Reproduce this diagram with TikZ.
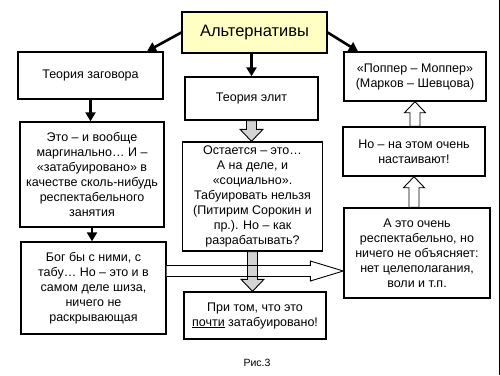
\documentclass[tikz,border=0pt]{standalone}
\usepackage{fontspec}
\setmainfont{Liberation Sans}
\usetikzlibrary{arrows.meta,calc}
\definecolor{titlefill}{RGB}{255,255,196}
\definecolor{blockgrey}{RGB}{212,212,212}
\newcommand\blockdown[3]{\filldraw[fill=#1,line width=0.9pt,line join=miter] let \p1=(#2), \p2=(#3) in (\x1-5pt,\y1) -- (\x1-5pt,\y2+12pt) -- (\x1-11.5pt,\y2+12pt) -- (\x1,\y2) -- (\x1+11.5pt,\y2+12pt) -- (\x1+5pt,\y2+12pt) -- (\x1+5pt,\y1) -- cycle;}
\newcommand\blockup[3]{\filldraw[fill=#1,line width=0.9pt,line join=miter] let \p1=(#2), \p2=(#3) in (\x1-5pt,\y1) -- (\x1-5pt,\y2-11pt) -- (\x1-10.5pt,\y2-11pt) -- (\x1,\y2) -- (\x1+10.5pt,\y2-11pt) -- (\x1+5pt,\y2-11pt) -- (\x1+5pt,\y1) -- cycle;}
\begin{document}
\begin{tikzpicture}[x=1pt,y=-1pt,
  box/.style={draw=black,line width=1.4pt,fill=white,inner sep=0pt,align=center,
    font=\fontsize{12.5}{15}\selectfont},
  blackarrow/.style={line width=2.6pt,-{Triangle[length=9pt,width=10pt]}}]
\useasboundingbox (0,0) rectangle (500,375);
\fill[white] (0,0) rectangle (500,375);
\draw[line width=1.5pt] (499.25,0) -- (499.25,375);

\node[box,fill=titlefill,minimum width=145pt,minimum height=41pt,font=\fontsize{16.5}{19}\selectfont] (title) at (254.5,32.5) {Альтернативы};

\node[box,minimum width=145pt,minimum height=47pt] (zag) at (90.5,75.5) {Теория заговора};
\node[box,minimum width=144pt,minimum height=105pt] (eto) at (92,174.5) {Это – и вообще\\маргинально… И –\\«затабуировано» в\\качестве сколь-нибудь\\респектабельного\\занятия};
\node[box,minimum width=145pt,minimum height=92pt] (bog) at (93.5,288) {Бог бы с ними, с\\табу… Но – это и в\\самом деле шиза,\\ничего не\\раскрывающая};

\node[box,minimum width=133pt,minimum height=43pt] (elit) at (251.5,98.5) {Теория элит};
\node[box,minimum width=140pt,minimum height=109pt] (ost) at (252.5,196.5) {Остается – это…\\А на деле, и\\«социально».\\Табуировать нельзя\\(Питирим Сорокин и\\пр.). Но – как\\разрабатывать?};
\node[box,minimum width=142pt,minimum height=47pt] (pri) at (255,315.5) {При том, что это\\\underline{почти} затабуировано!};

\node[box,minimum width=142pt,minimum height=49pt] (popper) at (415,76.5) {«Поппер – Моппер»\\(Марков – Шевцова)};
\node[box,minimum width=142pt,minimum height=49pt] (no) at (414,151.5) {Но – на этом очень\\настаивают!};
\node[box,minimum width=146pt,minimum height=90pt] (aeto) at (417,253) {А это очень\\респектабельно, но\\ничего не объясняет:\\нет целеполагания,\\воли и т.п.};

\node[font=\fontsize{10.5}{12}\selectfont] (cap) at (257,363) {Рис.3};

% black arrows
\draw[blackarrow] (title.west) -- ($(zag.north)+(56.5,0)$);
\draw[blackarrow] (title.east) -- ($(popper.north)+(-57,0)$);
\draw[blackarrow] (elit.north |- title.south) -- (elit.north);
\draw[blackarrow] (zag.south) -- (zag.south |- eto.north);
\draw[blackarrow] (eto.south) -- (eto.south |- bog.north);

% horizontal block arrow (white), then grey down arrows, then outline again
\coordinate (h1) at ($(bog.east)+(0,-17)$);
\coordinate (h2) at (h1 -| aeto.west);
\path[fill=white] let \p1=(h1), \p2=(h2) in (\x1,\y1+5.5pt) -- (\x2-33pt,\y1+5.5pt) -- (\x2-33pt,\y1+10pt) -- (\x2,\y1) -- (\x2-33pt,\y1-10pt) -- (\x2-33pt,\y1-5.5pt) -- (\x1,\y1-5.5pt) -- cycle;
\blockdown{blockgrey}{elit.south}{elit.south |- ost.north}
\blockdown{blockgrey}{ost.south}{ost.south |- pri.north}
\draw[line width=0.9pt,line join=miter] let \p1=(h1), \p2=(h2) in (\x1,\y1+5.5pt) -- (\x2-33pt,\y1+5.5pt) -- (\x2-33pt,\y1+10pt) -- (\x2,\y1) -- (\x2-33pt,\y1-10pt) -- (\x2-33pt,\y1-5.5pt) -- (\x1,\y1-5.5pt);

% white up arrows
\blockup{white}{no.south |- aeto.north}{no.south}
\blockup{white}{popper.south |- no.north}{popper.south}
\end{tikzpicture}
\end{document}
